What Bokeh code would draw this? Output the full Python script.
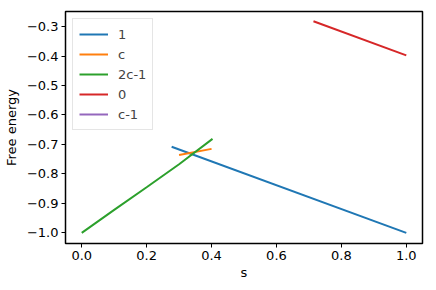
from bokeh.plotting import figure
from bokeh.embed import file_html
from bokeh.resources import INLINE
from bokeh.models import FixedTicker, Range1d

# data
s_1 = [0.277, 1.0]
f_1 = [-0.708, -1.0]
s_c = [0.30, 0.40]
f_c = [-0.736, -0.715]
s_2c1 = [0.0, 0.1, 0.2, 0.3, 0.403]
f_2c1 = [-1.0, -0.922, -0.845, -0.767, -0.681]
s_0 = [0.714, 1.0]
f_0 = [-0.282, -0.398]
s_c1 = [float("nan")]
f_c1 = [float("nan")]

x_ticks = [0.0, 0.2, 0.4, 0.6, 0.8, 1.0]
y_ticks = [-1.0, -0.9, -0.8, -0.7, -0.6, -0.5, -0.4, -0.3]

colors = ["#1f77b4", "#ff7f0e", "#2ca02c", "#d62728", "#9467bd"]

p = figure(frame_width=357, frame_height=232, output_backend="svg", toolbar_location=None,
           x_range=Range1d(-0.05, 1.05), y_range=Range1d(-1.036, -0.249),
           min_border_left=59, min_border_right=6, min_border_top=11, min_border_bottom=38)

series = [(s_1, f_1, "1"), (s_c, f_c, "c"), (s_2c1, f_2c1, "2c-1"), (s_0, f_0, "0"), (s_c1, f_c1, "c-1")]
for (xs, ys, lab), col in zip(series, colors):
    p.line(xs, ys, line_color=col, line_width=2, legend_label=lab)

font = "DejaVu Sans"
p.xgrid.visible = False
p.ygrid.visible = False
p.outline_line_color = "#000000"
p.outline_line_width = 1.5
p.outline_line_alpha = 1.0
p.background_fill_color = "white"
p.border_fill_color = "white"

p.xaxis.ticker = FixedTicker(ticks=x_ticks)
p.yaxis.ticker = FixedTicker(ticks=y_ticks)
p.xaxis.major_label_overrides = {t: f"{t:.1f}".replace("-", "\u2212") for t in x_ticks}
p.yaxis.major_label_overrides = {t: f"{t:.1f}".replace("-", "\u2212") for t in y_ticks}
for ax in (p.xaxis, p.yaxis):
    ax.minor_tick_line_color = None
    ax.major_tick_in = 0
    ax.major_tick_out = 4
    ax.axis_line_color = "black"
    ax.major_tick_line_color = "black"
    ax.major_label_text_font = font
    ax.major_label_text_font_size = "13px"
    ax.major_label_text_color = "black"
    ax.axis_label_text_font = font
    ax.axis_label_text_font_size = "13px"
    ax.axis_label_text_font_style = "normal"
    ax.axis_label_text_color = "black"
p.xaxis.axis_label = "s"
p.yaxis.axis_label = "Free energy"
p.xaxis.major_label_standoff = 3
p.yaxis.major_label_standoff = 3
p.xaxis.axis_label_standoff = 2
p.yaxis.axis_label_standoff = 5

lg = p.legend[0]
lg.location = "top_left"
lg.margin = 7
lg.padding = 6
lg.spacing = 2
lg.label_text_font = font
lg.label_text_font_size = "13px"
lg.label_height = 18
lg.glyph_height = 18
lg.glyph_width = 29
lg.label_standoff = 10
lg.border_line_color = "#cccccc"
lg.border_line_width = 1
lg.background_fill_alpha = 0.8

open("out.html", "w").write(file_html(p, INLINE))
